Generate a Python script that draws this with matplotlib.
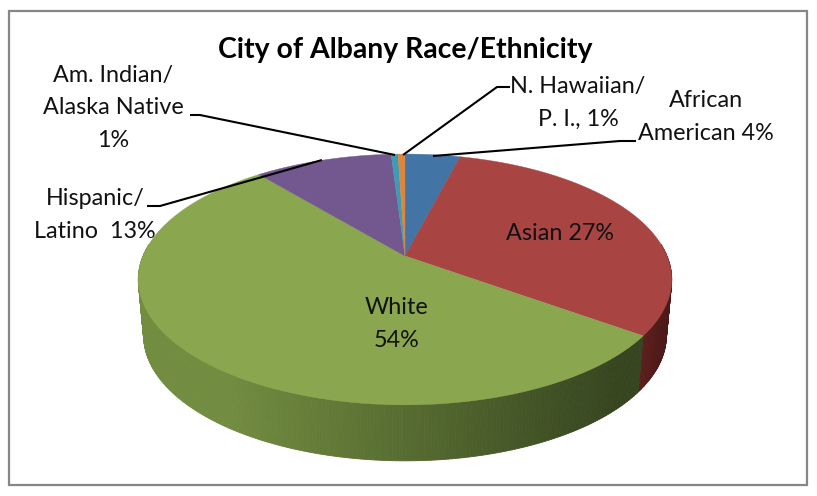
import numpy as np
import matplotlib
matplotlib.use("Agg")
import matplotlib.pyplot as plt
from matplotlib.patches import Rectangle
from matplotlib.colors import to_rgb

plt.rcParams['font.family'] = ['Lato', 'DejaVu Sans']

# Slice sizes as drawn (the chart's hand-typed labels differ slightly from the slices)
categories = ["African American", "Asian", "White", "Hispanic/Latino", "Am. Indian/Alaska Native", "N. Hawaiian/P. I."]
slice_values = [4, 31, 54, 10, 0.5, 0.5]
slice_colors = ["#4374A6", "#A84543", "#8AA64E", "#72588F", "#3F9AB2", "#DC853C"]
side_light = ["#3A5A80", "#5E1F1D", "#728C40", "#5A4672", "#30788C", "#A8652D"]
side_dark = ["#2A4060", "#471817", "#36451F", "#40324F", "#225565", "#70431E"]

title = "City of Albany Race/Ethnicity"
labels = [
    ("Am. Indian/\nAlaska Native\n1%", 113, 108),
    ("Hispanic/\nLatino  13%", 95, 215),
    ("N. Hawaiian/\nP. I., 1%", 578, 103),
    ("African\nAmerican 4%", 706, 117),
    ("Asian 27%", 560, 233),
    ("White\n54%", 397, 324),
]
leaders = [
    ([190, 200, 395], [115, 115, 155]),
    ([147, 160, 322], [206, 206, 160]),
    ([510, 497, 403], [87, 87, 155]),
    ([636, 620, 433], [141, 141, 156]),
]

CX, CY, RX, RY, K = 405, 256, 262, 121, 0.187
DEPTH, SHRINK = 56, 0.98


def rim(theta):
    """Project the angle (clockwise from the far point) onto the tilted pie's top rim."""
    u, v = np.sin(theta), np.cos(theta)
    w = 1 + K * v
    return CX + RX * u / w, CY - RY * v / w


fig = plt.figure(figsize=(8.17, 4.96), dpi=100)
ax = fig.add_axes([0, 0, 1, 1])
ax.set_xlim(0, 817)
ax.set_ylim(496, 0)
ax.axis('off')
ax.add_patch(Rectangle((9, 11), 798, 474, fc='white', ec='#868686', lw=1.6))

edges = 2 * np.pi * np.concatenate([[0], np.cumsum(slice_values)]) / np.sum(slice_values)

# Side wall, front half only, shaded left to right
for i in range(len(slice_values)):
    a0, a1 = edges[i], edges[i + 1]
    lo, hi = max(a0, np.pi / 2 - 0.1), min(a1, 3 * np.pi / 2 + 0.1)
    if hi <= lo:
        continue
    steps = np.linspace(lo, hi, max(2, int((hi - lo) * 90)))
    for t0, t1 in zip(steps[:-1], steps[1:]):
        x0, y0 = rim(t0)
        x1, y1 = rim(t1)
        xb0 = CX + (x0 - CX) * SHRINK
        xb1 = CX + (x1 - CX) * SHRINK
        f = np.clip((x0 - 230) / (620 - 230), 0, 1) if i == 2 else (x0 - 640) / 35
        f = float(np.clip(f, 0, 1))
        c = (1 - f) * np.array(to_rgb(side_light[i])) + f * np.array(to_rgb(side_dark[i]))
        ax.fill([x0, x1, xb1, xb0], [y0, y1, y1 + DEPTH, y0 + DEPTH], color=c, lw=0.6, ec=c, zorder=2)

# Top face
for i in range(len(slice_values)):
    th = np.linspace(edges[i], edges[i + 1], 200)
    x, y = rim(th)
    ax.fill(np.r_[CX, x], np.r_[CY, y], color=slice_colors[i], lw=0.3, ec=slice_colors[i], zorder=3)

for xs, ys in leaders:
    ax.plot(xs, ys, color='black', lw=1.5, zorder=4, solid_capstyle='butt')

for txt, x, y in labels:
    ax.text(x, y, txt, ha='center', va='center', fontsize=16.8, color='#111111',
            linespacing=1.66, zorder=5)
ax.text(405, 50, title, ha='center', va='center', fontsize=20.4, fontweight='bold', color='black', zorder=5)

fig.savefig("out.png", dpi=100)
